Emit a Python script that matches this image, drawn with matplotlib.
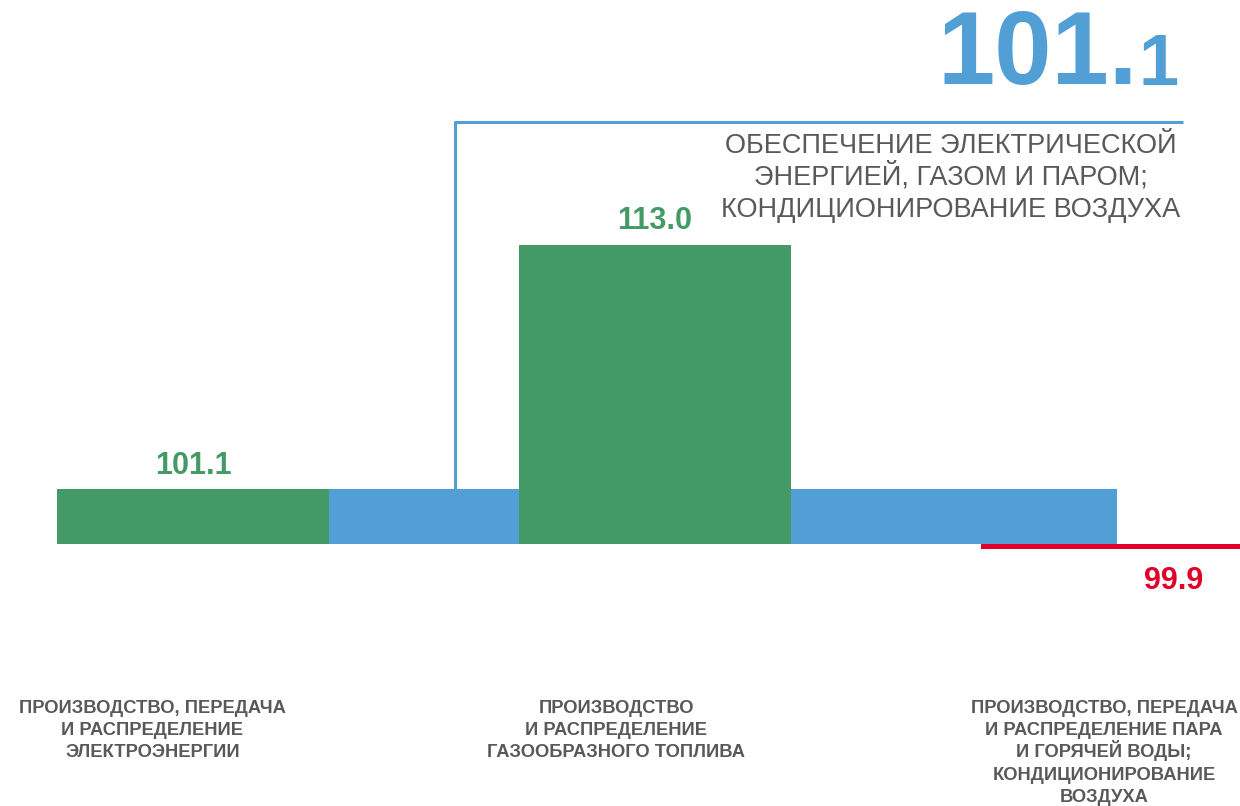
import numpy as np
import matplotlib.pyplot as plt
from matplotlib.transforms import offset_copy

plt.rcParams['font.family'] = ['Liberation Sans', 'DejaVu Sans']

# data
categories = ['ПРОИЗВОДСТВО, ПЕРЕДАЧА\nИ РАСПРЕДЕЛЕНИЕ\nЭЛЕКТРОЭНЕРГИИ',
              'ПРОИЗВОДСТВО\nИ РАСПРЕДЕЛЕНИЕ\nГАЗООБРАЗНОГО ТОПЛИВА',
              'ПРОИЗВОДСТВО, ПЕРЕДАЧА\nИ РАСПРЕДЕЛЕНИЕ ПАРА\nИ ГОРЯЧЕЙ ВОДЫ;\nКОНДИЦИОНИРОВАНИЕ\nВОЗДУХА']
values = [101.1, 113.0, 99.9]
total_name = 'ОБЕСПЕЧЕНИЕ ЭЛЕКТРИЧЕСКОЙ\nЭНЕРГИЕЙ, ГАЗОМ И ПАРОМ;\nКОНДИЦИОНИРОВАНИЕ ВОЗДУХА'
total_value = 101.1
base = 100.0

GREEN = '#449a67'
RED = '#e0002a'
BLUE = '#529fd6'
GREY = '#595959'


# compressed scale around 100 (infographic style, not linear)
def fwd(v):
    return np.arcsinh((np.asarray(v) - base) / 2.45)


def inv(u):
    return base + 2.45 * np.sinh(np.asarray(u))


fig = plt.figure(figsize=(12.4, 8.06), dpi=100)
ax = fig.add_axes([0, 0, 1, 1])
ax.set_yscale('function', functions=(fwd, inv))
ax.set_xlim(-0.4177, 2.2662)
px_u = 126.2
ax.set_ylim(inv(-262 / px_u), inv(544 / px_u))
ax.axis('off')

x = np.arange(len(values))
w = 0.59

# total band
ax.bar(-w / 2, total_value - base, width=2 + w / 2, bottom=base,
       align='edge', color=BLUE, zorder=1)

colors = [GREEN if v >= base else RED for v in values]
ax.bar(x, [v - base for v in values], width=w, bottom=base,
       color=colors, zorder=2)

for xi, v, c in zip(x, values, colors):
    if v >= base:
        ax.annotate(f'{v:.1f}', (xi, v), xytext=(0, 6), textcoords='offset points',
                    ha='center', va='bottom', fontsize=22, fontweight='bold', color=c)
    else:
        ax.annotate(f'{v:.1f}', (xi, v), xytext=(41, -12), textcoords='offset points',
                    ha='center', va='top', fontsize=22, fontweight='bold', color=c)

# category names, one line at a time so the spacing stays even
label_dx = [-0.088, -0.084, -0.028]
xtrans = ax.get_xaxis_transform()
for xi, dx, lab in zip(x, label_dx, categories):
    for i, line in enumerate(lab.split('\n')):
        ax.text(xi + dx, 1 - 713 / 806, line,
                transform=offset_copy(xtrans, fig, y=-i * 16.0, units='points'),
                ha='center', va='baseline', fontsize=13.2, fontweight='bold', color=GREY)

# bracket for the total
ax.plot([455 / 1240, 455 / 1240, 1183 / 1240], [1 - 489 / 806, 1 - 122 / 806, 1 - 122 / 806],
        transform=ax.transAxes, color=BLUE, lw=2.2, solid_capstyle='butt', zorder=1)

for i, line in enumerate(total_name.split('\n')):
    ax.text(0.767, 1 - 153 / 806, line,
            transform=offset_copy(ax.transAxes, fig, y=-i * 23.0, units='points'),
            ha='center', va='baseline', fontsize=19.5, color=GREY)

s = f'{total_value:.1f}'
big = ax.text(938 / 1240, 1 - 84 / 806, s[:-1], transform=ax.transAxes,
              ha='left', va='baseline', fontsize=74, fontweight='bold', color=BLUE)
ax.annotate(s[-1], xy=(1, 0), xycoords=big, xytext=(0, 15.3), textcoords='offset points',
            ha='left', va='baseline', fontsize=52, fontweight='bold', color=BLUE)

fig.savefig('out.png', dpi=100)
